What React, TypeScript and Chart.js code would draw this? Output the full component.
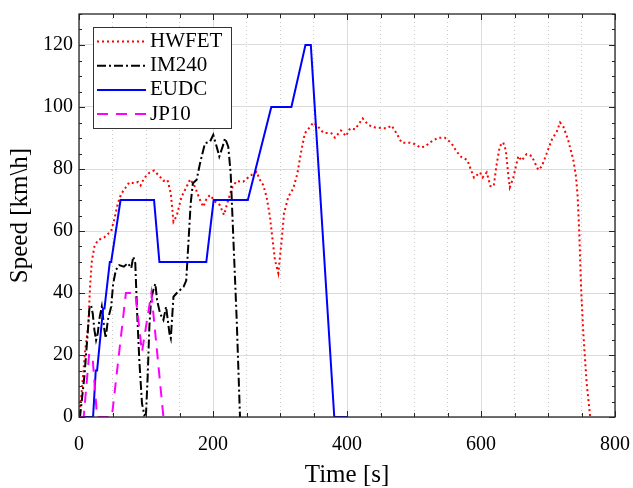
import { useEffect, useRef } from 'react';
import { Chart, registerables } from 'chart.js';

Chart.register(...registerables);

// ---- Data (time in s, speed in km/h) ----
const hwfetTime = [0, 4, 9, 14, 16.5, 19, 23, 28, 38, 48, 53, 58, 63, 68, 75, 82, 88, 92, 97, 105, 112, 120, 126, 132, 137, 141, 146, 153, 160, 166, 173, 180.6, 185.5, 190.6, 195.5, 203, 210, 216.4, 221.4, 228, 235, 245, 255, 265, 270, 275, 280, 285, 289, 292.5, 297.5, 302.5, 306, 312.4, 320, 326, 331, 337, 350, 357, 364.6, 377, 382, 391, 398.5, 404.5, 412, 423.4, 431.8, 441.8, 459, 466.7, 474, 481.6, 494, 501.5, 509, 516.4, 524, 536, 546, 556, 563.7, 571, 579.6, 585, 589.6, 598.5, 602.5, 608.5, 614, 619, 623, 628, 633, 637, 641, 643, 648, 655.7, 660.7, 668, 675.6, 682, 685.5, 690.6, 698, 705.5, 713, 718, 723, 730, 737.8, 741.8, 744.3, 746.7, 749.3, 752.7, 757.7, 763];
const hwfetSpeed = [0, 8, 21, 30, 42, 50, 55, 57, 58, 60, 64, 69, 72, 73.5, 75.7, 75.4, 75.8, 74.7, 77, 78.8, 79.5, 77.7, 76.2, 76.5, 72.2, 63, 65, 71, 74, 76.7, 74.3, 70, 67.8, 70.5, 71.6, 69.5, 68.4, 65.2, 69, 73.8, 76.1, 75.9, 77.7, 79.1, 76.5, 74.8, 71, 64.6, 57, 50.6, 46.4, 57, 65.7, 71, 73.8, 78.6, 85, 91.5, 95, 93.6, 91.7, 91.5, 90.1, 92.4, 90.6, 93.1, 92.8, 96.3, 94.2, 93.4, 93.1, 94, 91.5, 88.5, 88.5, 88, 87, 87.2, 88.6, 90.1, 90.1, 88.3, 85.6, 83.8, 82.9, 79.7, 77.2, 78.9, 77.3, 78.9, 74.5, 74.5, 81, 87.3, 88.6, 86.1, 77.5, 74.1, 77, 84.2, 82.7, 84.8, 84.2, 81.3, 79.7, 80.8, 85, 89.4, 92, 95, 93.6, 89.4, 82.9, 77.5, 71, 59.3, 42, 27, 10.9, 0];

const im240Time = [0, 1.5, 8, 13, 15.5, 18, 20.5, 23, 25.5, 28, 31, 34, 38, 40, 43, 48, 51, 55, 60, 67, 73, 78, 81, 84, 86.6, 90, 94, 97.5, 100, 102.5, 105, 107.5, 111, 114, 116.5, 121, 126, 130, 135, 137, 141, 146, 151, 156, 160, 163, 166.7, 170, 175.6, 180.6, 188, 195.5, 200.4, 205.5, 209.4, 214.4, 218, 222.8, 226.4, 230.3, 235.4, 240.3];
const im240Speed = [0, 0, 13, 27, 35, 36, 33.4, 28, 24.8, 27, 32.4, 35.6, 28, 25.4, 31.3, 35.6, 43, 47.4, 49, 48.5, 49.6, 48, 51.7, 49.6, 34.5, 18.4, 4.4, 0.6, 1, 13, 29, 37.7, 41, 43, 37.7, 33.4, 31.3, 35.6, 27, 25.4, 38.8, 40, 41, 42, 44, 55, 69, 75.4, 76.5, 81.8, 88.3, 88.8, 91, 87.2, 84, 87.2, 89.9, 87.2, 78.6, 58, 31.3, 0];

const eudcTime = [0, 21, 25, 27, 36, 38, 46, 48, 62, 112, 120, 190, 201, 252, 287, 317, 338, 346, 381, 400];
const eudcSpeed = [0, 0, 15, 15, 35, 35, 50, 50, 70, 70, 50, 50, 70, 70, 100, 100, 120, 120, 0, 0];

const jp10Time = [0, 7, 15, 20, 27, 49, 70, 84, 94, 108, 126, 135];
const jp10Speed = [0, 0, 20, 20, 0, 0, 40, 40, 21, 40, 0, 0];

const xTickStep = 50;
const xLabelStep = 200;
const yTickStep = 5;
const yLabelStep = 20;

const SERIF = '"Liberation Serif", "DejaVu Serif", serif';

const toPoints = (t: number[], v: number[]) => t.map((x, i) => ({ x, y: v[i] }));

const zeroPadding = (s: any) => {
  s.paddingLeft = 0;
  s.paddingRight = 0;
  s.paddingTop = 0;
  s.paddingBottom = 0;
};

const framePlugin = {
  id: 'frameAndLegend',
  afterDraw(chart: any) {
    const { ctx, chartArea, scales } = chart;
    const { left, right, top, bottom } = chartArea;
    ctx.save();
    // inward ticks
    ctx.strokeStyle = '#262626';
    ctx.lineWidth = 1;
    ctx.setLineDash([]);
    ctx.beginPath();
    scales.x.ticks.forEach((t: any) => {
      const px = Math.round(scales.x.getPixelForValue(t.value)) + 0.5;
      const len = t.value % xLabelStep === 0 ? 6 : 4;
      ctx.moveTo(px, bottom);
      ctx.lineTo(px, bottom - len);
      ctx.moveTo(px, top);
      ctx.lineTo(px, top + len);
    });
    scales.y.ticks.forEach((t: any) => {
      const py = Math.round(scales.y.getPixelForValue(t.value)) + 0.5;
      const len = t.value % yLabelStep === 0 ? 6 : 3;
      ctx.moveTo(left, py);
      ctx.lineTo(left + len, py);
      ctx.moveTo(right, py);
      ctx.lineTo(right - len, py);
    });
    ctx.stroke();
    // frame
    ctx.lineWidth = 1.3;
    ctx.strokeRect(left, top, right - left, bottom - top);

    // legend box
    const x0 = left + 14;
    const y0 = top + 13;
    const w = 138;
    const h = 101;
    ctx.fillStyle = '#ffffff';
    ctx.fillRect(x0, y0, w, h);
    ctx.strokeStyle = '#333333';
    ctx.lineWidth = 1;
    ctx.strokeRect(x0 + 0.5, y0 + 0.5, w, h);
    chart.data.datasets.forEach((ds: any, i: number) => {
      const y = y0 + 14.5 + i * 24.2;
      ctx.beginPath();
      ctx.setLineDash(ds.borderDash || []);
      ctx.strokeStyle = ds.borderColor;
      ctx.lineWidth = ds.borderWidth;
      ctx.moveTo(x0 + 4, y);
      ctx.lineTo(x0 + 53, y);
      ctx.stroke();
      ctx.setLineDash([]);
      ctx.fillStyle = '#000';
      ctx.font = `21px ${SERIF}`;
      ctx.textBaseline = 'middle';
      ctx.textAlign = 'left';
      ctx.fillText(ds.label, x0 + 57, y);
    });
    ctx.restore();
  },
};

export default function App() {
  const ref = useRef<HTMLCanvasElement | null>(null);

  useEffect(() => {
    if (!ref.current) return;
    const chart = new Chart(ref.current, {
      type: 'line',
      data: {
        datasets: [
          {
            label: 'HWFET',
            data: toPoints(hwfetTime, hwfetSpeed),
            borderColor: '#ff0000',
            borderWidth: 2,
            borderDash: [2, 3],
            order: 4,
          },
          {
            label: 'IM240',
            data: toPoints(im240Time, im240Speed),
            borderColor: '#000000',
            borderWidth: 2,
            borderDash: [9, 3, 2, 3],
            order: 3,
          },
          {
            label: 'EUDC',
            data: toPoints(eudcTime, eudcSpeed),
            borderColor: '#0000ff',
            borderWidth: 2,
            borderDash: [],
            order: 2,
          },
          {
            label: 'JP10',
            data: toPoints(jp10Time, jp10Speed),
            borderColor: '#ff00ff',
            borderWidth: 2,
            borderDash: [11, 8],
            order: 1,
          },
        ] as any,
      },
      options: {
        responsive: false,
        animation: false,
        parsing: false as any,
        elements: { point: { radius: 0 }, line: { tension: 0, fill: false } },
        layout: { autoPadding: false, padding: { top: 14, right: 18, left: 0, bottom: 0 } } as any,
        plugins: { legend: { display: false }, tooltip: { enabled: false } },
        scales: {
          x: {
            type: 'linear',
            min: 0,
            max: 800,
            afterFit: (s: any) => {
              s.height = 71;
              zeroPadding(s);
            },
            ticks: {
              stepSize: xTickStep,
              autoSkip: false,
              maxRotation: 0,
              padding: 16,
              color: '#000',
              font: { family: SERIF, size: 20 },
              callback: (v: any) => (Number(v) % xLabelStep === 0 ? String(v) : ''),
            },
            grid: {
              drawTicks: false,
              lineWidth: 1,
              color: (c: any) =>
                c.tick && c.tick.value % xLabelStep === 0 ? '#dcdcdc' : '#c8c8c8',
            },
            border: {
              display: false,
              dash: (c: any) => (c.tick && c.tick.value % xLabelStep !== 0 ? [1, 3] : []),
            } as any,
            title: {
              display: true,
              text: 'Time [s]',
              color: '#000',
              font: { family: SERIF, size: 25, lineHeight: 1 },
              padding: { top: 0, bottom: 0 },
            },
          },
          y: {
            type: 'linear',
            min: 0,
            max: 130,
            afterFit: (s: any) => {
              s.width = 79;
              zeroPadding(s);
            },
            ticks: {
              stepSize: yTickStep,
              autoSkip: false,
              padding: 6,
              color: '#000',
              font: { family: SERIF, size: 20 },
              callback: (v: any) => (Number(v) % yLabelStep === 0 ? String(v) : ''),
            },
            grid: {
              drawTicks: false,
              lineWidth: 1,
              color: (c: any) =>
                c.tick && c.tick.value % yLabelStep === 0 ? '#dcdcdc' : 'rgba(0,0,0,0)',
            },
            border: { display: false },
            title: {
              display: true,
              text: 'Speed [km\\h]',
              color: '#000',
              font: { family: SERIF, size: 25, lineHeight: 1 },
              padding: { top: 8, bottom: 0 },
            },
          },
        },
      },
      plugins: [framePlugin],
    });
    return () => chart.destroy();
  }, []);

  return (
    <div style={{ position: 'absolute', left: 0, top: 0, width: 633, height: 488 }}>
      <canvas ref={ref} width={633} height={488} style={{ display: 'block' }} />
    </div>
  );
}
